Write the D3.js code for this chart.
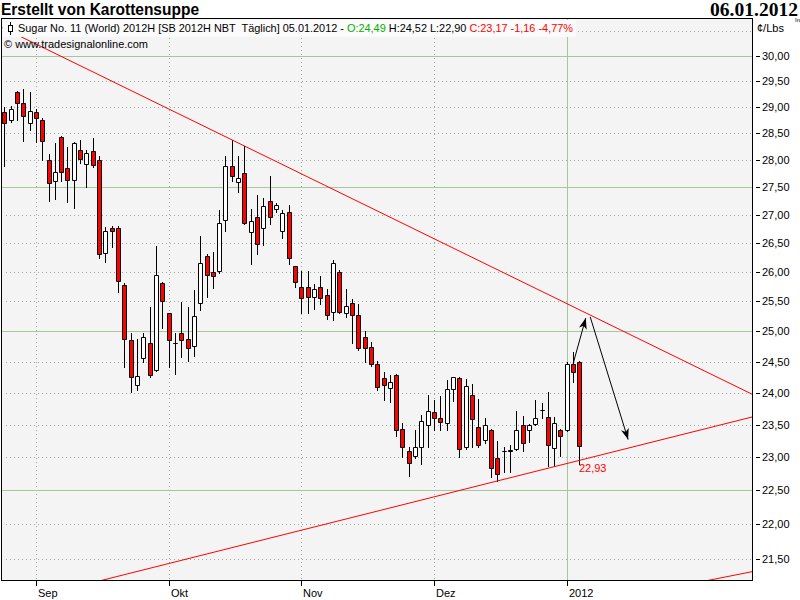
<!DOCTYPE html>
<html><head><meta charset="utf-8">
<script src="https://cdn.jsdelivr.net/npm/d3@7"></script>
<style>body{margin:0;background:#fff;overflow:hidden}</style>
</head><body>
<script>
// ---- data (daily candles, index 0 = 25.08.2011 ... 91 = 05.01.2012) ----
const openP  = [28.90,28.75,29.29,29.09,28.69,28.90,28.75,28.00,27.61,28.43,27.85,27.63,28.19,27.93,28.17,28.00,26.33,26.77,26.77,25.78,24.85,24.13,24.56,24.80,24.37,25.81,25.30,24.81,24.97,24.87,24.75,25.47,26.28,26.00,26.01,26.92,27.89,27.60,27.76,26.70,26.96,26.77,27.26,27.11,26.71,27.05,26.10,25.74,25.74,25.57,25.74,25.61,25.32,26.00,25.30,25.47,25.27,24.91,24.74,24.46,24.24,24.08,24.28,23.44,23.09,23.02,23.15,23.49,23.70,23.60,23.53,24.06,24.24,23.15,23.97,23.46,23.26,23.42,22.98,23.10,23.11,23.12,23.49,23.42,23.51,23.73,23.62,23.14,23.42,23.42,24.46,24.49];
const highP  = [29.00,29.02,29.31,29.35,29.29,28.96,28.79,28.12,28.32,28.45,28.25,28.33,28.38,28.19,28.41,28.07,26.79,26.81,26.81,25.81,24.97,24.87,24.97,25.40,26.46,25.83,25.31,24.97,25.49,25.40,25.69,26.63,26.32,26.35,27.09,28.08,28.38,28.08,28.27,27.11,27.36,27.31,27.71,27.22,27.09,27.18,26.11,26.02,26.01,25.79,25.94,25.71,26.20,26.03,25.71,25.54,25.45,25.01,24.82,24.51,24.33,24.29,24.31,23.53,23.15,23.42,23.65,23.97,23.89,23.95,24.20,24.26,24.26,24.22,24.14,23.90,23.60,23.43,23.25,23.16,23.19,23.72,23.63,23.51,23.89,23.84,24.01,23.62,23.43,24.50,24.66,24.52];
const lowP   = [27.90,28.72,28.76,28.36,28.57,28.34,28.01,27.26,27.29,27.61,27.24,27.13,27.94,27.50,27.88,26.24,26.18,26.44,25.66,24.41,24.01,24.04,24.50,24.26,24.35,25.05,24.41,24.31,24.57,24.51,24.60,25.36,25.58,25.72,25.98,26.71,27.62,27.41,26.84,26.14,26.32,26.47,26.84,27.05,26.59,26.14,25.74,25.31,25.30,25.37,25.45,25.21,25.19,25.31,25.24,24.80,24.70,24.50,24.43,24.05,23.89,23.86,23.33,23.01,22.72,22.98,22.90,23.15,23.42,23.42,23.42,23.87,23.00,23.13,23.15,23.15,23.22,22.70,22.64,22.78,22.78,23.11,23.10,23.23,23.50,23.61,22.86,22.86,23.02,23.40,24.17,22.90];
const closeP = [28.70,28.96,29.09,28.83,28.92,28.79,28.35,27.58,27.78,27.78,27.63,28.32,28.02,28.13,27.91,26.32,26.71,26.71,25.84,24.87,24.26,24.27,24.90,24.29,25.95,25.50,24.85,24.81,24.85,24.72,25.25,26.15,25.95,25.93,26.86,27.89,27.70,27.67,26.86,26.90,26.49,27.16,26.96,27.18,27.03,26.25,25.83,25.55,25.57,25.71,25.55,25.27,26.16,25.32,25.42,25.27,24.72,24.72,24.46,24.09,24.12,24.17,23.42,23.15,22.91,23.15,23.56,23.71,23.60,23.54,24.06,24.25,23.12,24.11,23.59,23.18,23.49,22.83,22.74,23.10,23.09,23.42,23.22,23.49,23.60,23.73,23.18,23.53,23.32,24.46,24.33,23.17];

const yTickValues = [21.5,22,22.5,23,23.5,24,24.5,25,25.5,26,26.5,27,27.5,28,28.5,29,29.5,30];
const yGridValues = [21.5,22,22.5,23,23.5,24,24.5,25,25.5,26,26.5,27,27.5,28,28.5,29,29.5,30,30.5];
const yMajorValues = [22.5,25,27.5,30];
const monthTickIdx = [5,26,47,68,89];
const monthTickLabels = ["Sep","Okt","Nov","Dez","2012"];
const yearTickIdx = [89];

// drawing objects (index, price)
const upperTrend = [{i:36,p:28.38},{i:118.3,p:23.98}];
const lowerTrend = [{i:78,p:22.64},{i:118.3,p:23.62}];
const extraTrend = [{i:111.5,p:21.20},{i:118.3,p:21.32}];
const arrows = [
  [{i:90.0,p:24.47},{i:92.0,p:25.22}],
  [{i:92.7,p:25.24},{i:98.7,p:23.27}]
];
const trendLabel = {i:91, p:22.93, text:"22,93"};

const titleText = "Erstellt von Karottensuppe";
const dateText = "06.01.2012";
const unitText = "¢/Lbs";
const legendParts = [
  {t:"Sugar No. 11 (World) 2012H [SB 2012H NBT\u00a0 Täglich] 05.01.2012 - ", c:"#000"},
  {t:"O:24,49", c:"#00b000"},
  {t:" H:24,52 L:22,90 ", c:"#000"},
  {t:"C:23,17 -1,16 -4,77%", c:"#ff0000"}
];
const copyrightText = "© www.tradesignalonline.com";

// ---- layout ----
const W = 800, H = 600;
const L = 2, R = 752, T = 19, B = 580;
const svg = d3.select("body").append("svg").attr("width", W).attr("height", H)
  .style("font-family", "'Liberation Sans', Arial, sans-serif");

const x = d3.scaleLinear().domain([-0.36, 118.3]).range([L, R]);
const y = d3.scaleLog().domain([21.5, 30]).range([559, 56]);

svg.append("defs").append("clipPath").attr("id","plotclip")
  .append("rect").attr("x",L).attr("y",T).attr("width",R-L).attr("height",B-T);
const mk = svg.select("defs").append("marker").attr("id","arr")
  .attr("markerUnits","userSpaceOnUse").attr("markerWidth",14).attr("markerHeight",10)
  .attr("refX",11).attr("refY",4).attr("orient","auto");
mk.append("path").attr("d","M0,0 L11,4 L0,8 L3,4 Z").attr("fill","#000");

// plot background
svg.append("rect").attr("x",L).attr("y",T).attr("width",R-L).attr("height",B-T).attr("fill","#f4f4f4");

const plot = svg.append("g").attr("clip-path","url(#plotclip)");
const snap = v => Math.round(v) + 0.5;

// dotted minor grid (drawn as 1px dots every 4px)
const minorY = yGridValues.filter(d => !yMajorValues.includes(d));
const minorX = monthTickIdx.filter(d => !yearTickIdx.includes(d));
const hDots = d3.range(L + 4, R, 4);
minorY.forEach(v => {
  const yy = Math.round(y(v));
  plot.append("g").selectAll("rect").data(hDots).enter().append("rect")
    .attr("x", d => d).attr("y", yy).attr("width", 1).attr("height", 1)
    .attr("fill", "#9aac9a").attr("shape-rendering","crispEdges");
});
const vDots = d3.range(T + 3, B, 4);
minorX.forEach(v => {
  const xx = Math.round(x(v));
  plot.append("g").selectAll("rect").data(vDots).enter().append("rect")
    .attr("x", xx).attr("y", d => d).attr("width", 1).attr("height", 1)
    .attr("fill", "#9aac9a").attr("shape-rendering","crispEdges");
});
// solid major grid
plot.selectAll("line.hg").data(yMajorValues).enter().append("line")
  .attr("x1",L).attr("x2",R)
  .attr("y1",d=>snap(y(d))).attr("y2",d=>snap(y(d)))
  .attr("stroke","#a6c69e");
plot.selectAll("line.vg").data(yearTickIdx).enter().append("line")
  .attr("y1",T).attr("y2",B)
  .attr("x1",d=>snap(x(d))).attr("x2",d=>snap(x(d)))
  .attr("stroke","#a6c69e");

// legend row background
svg.append("rect").attr("x",L+0.5).attr("y",T+1).attr("width",573).attr("height",17).attr("fill","#fbfbfb");

// candles
const idx = d3.range(openP.length);
const cg = plot.append("g");
idx.forEach(i => {
  const cx = Math.round(x(i));
  const up = closeP[i] >= openP[i];
  cg.append("line").attr("x1",cx+0.5).attr("x2",cx+0.5)
    .attr("y1",Math.round(y(highP[i]))).attr("y2",Math.round(y(lowP[i]))+1)
    .attr("stroke","#000").attr("stroke-width",1);
  const yt = Math.round(y(Math.max(openP[i],closeP[i]))) + 0.5;
  const yb = Math.round(y(Math.min(openP[i],closeP[i]))) + 0.5;
  cg.append("path").attr("d",`M${cx-1.5},${yt}H${cx+2.5}V${yb}H${cx-1.5}Z`)
    .attr("fill", up ? "#ffffff" : "#ff0000").attr("stroke","#000").attr("stroke-width",1);
});

// trend lines, extended to plot edges
function extLine(a,b){
  const x1=x(a.i), y1=y(a.p), x2=x(b.i), y2=y(b.p);
  const m=(y2-y1)/(x2-x1);
  return [[L, y1+(L-x1)*m],[R, y1+(R-x1)*m]];
}
[upperTrend, lowerTrend, extraTrend].forEach(tl => {
  const [p1,p2] = extLine(tl[0], tl[1]);
  plot.append("line").attr("x1",p1[0]).attr("y1",p1[1]).attr("x2",p2[0]).attr("y2",p2[1])
    .attr("stroke","#ff0000").attr("stroke-width",1);
});
// arrows
arrows.forEach(a => {
  plot.append("line").attr("x1",x(a[0].i)).attr("y1",y(a[0].p))
    .attr("x2",x(a[1].i)).attr("y2",y(a[1].p))
    .attr("stroke","#000").attr("stroke-width",1).attr("marker-end","url(#arr)");
});
// trend value label
plot.append("text").attr("x",x(trendLabel.i)-0.5).attr("y",y(trendLabel.p)+10.5)
  .attr("font-size",11).attr("fill","#ff0000").text(trendLabel.text);

// frame
svg.append("rect").attr("x",L-0.5).attr("y",T-0.5).attr("width",R-L+1).attr("height",B-T+1)
  .attr("fill","none").attr("stroke","#000").attr("stroke-width",1);

// legend
const lg = svg.append("g");
lg.append("line").attr("x1",10.5).attr("x2",10.5).attr("y1",22).attr("y2",35).attr("stroke","#000");
lg.append("rect").attr("x",8.5).attr("y",25.5).attr("width",4).attr("height",6).attr("fill","#fff").attr("stroke","#000");
const legText = lg.append("text").attr("x",18).attr("y",32).attr("font-size",11);
legendParts.forEach(p => legText.append("tspan").attr("fill",p.c).text(p.t));
legText.attr("textLength",555).attr("lengthAdjust","spacingAndGlyphs");
lg.append("text").attr("x",4).attr("y",48).attr("font-size",11).attr("fill","#000")
  .attr("textLength",144).attr("lengthAdjust","spacingAndGlyphs").text(copyrightText);

// y axis
const ya = svg.append("g");
ya.selectAll("line").data(yTickValues).enter().append("line")
  .attr("x1",756).attr("x2",760).attr("y1",d=>snap(y(d))).attr("y2",d=>snap(y(d))).attr("stroke","#000");
ya.selectAll("text").data(yTickValues).enter().append("text")
  .attr("x",762).attr("y",d=>y(d)+4).attr("font-size",11).attr("fill","#000")
  .text(d=>d3.format(".2f")(d).replace(".",","));
svg.append("text").attr("x",757).attr("y",32).attr("font-size",11).text(unitText);

// x axis
const xa = svg.append("g");
xa.selectAll("line").data(monthTickIdx).enter().append("line")
  .attr("x1",d=>snap(x(d))).attr("x2",d=>snap(x(d))).attr("y1",B).attr("y2",B+6).attr("stroke","#000");
xa.selectAll("text").data(monthTickIdx).enter().append("text")
  .attr("x",d=>Math.round(x(d))+2).attr("y",597).attr("font-size",11).attr("fill","#000")
  .text((d,k)=>monthTickLabels[k]);

// header
svg.append("text").attr("x",1).attr("y",15).attr("font-size",16).attr("font-weight","bold")
  .attr("textLength",198).attr("lengthAdjust","spacingAndGlyphs").text(titleText);
svg.append("text").attr("x",710).attr("y",16).attr("font-size",18).attr("font-weight","bold")
  .style("font-family","'Liberation Serif', 'Times New Roman', serif")
  .attr("textLength",88).attr("lengthAdjust","spacingAndGlyphs").text(dateText);
svg.append("text").attr("x",795).attr("y",22).attr("font-size",6).text("In");
</script>
</body></html>
